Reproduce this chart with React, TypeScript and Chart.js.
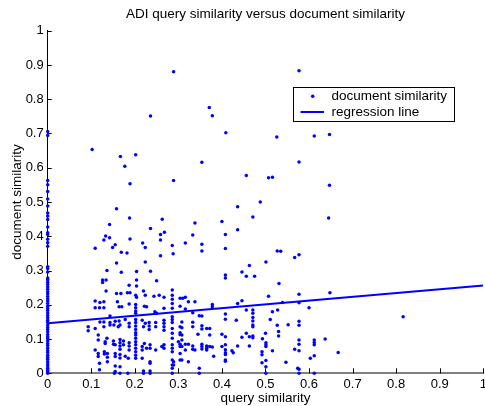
import React, { useEffect, useRef } from "react";
import { Chart, registerables } from "chart.js";

Chart.register(...registerables);

const chartTitle = "ADI query similarity versus document similarity";
const xAxisTitle = "query similarity";
const yAxisTitle = "document similarity";
const legendLabels = ["document similarity", "regression line"];
const tickValues = [0, 0.1, 0.2, 0.3, 0.4, 0.5, 0.6, 0.7, 0.8, 0.9, 1];

// regression line end points (query similarity 0 and 1)
const regressionX = [0, 1];
const regressionY = [0.146, 0.256];

// documents whose query similarity is zero
const zeroQueryDocSim = [
  0, 0.004, 0.009, 0.015, 0.021, 0.027, 0.034, 0.041, 0.046, 0.053, 0.061, 0.066,
  0.073, 0.081, 0.087, 0.094, 0.101, 0.107, 0.113, 0.121, 0.128, 0.134, 0.141,
  0.149, 0.155, 0.162, 0.169, 0.176, 0.183, 0.189, 0.196, 0.204, 0.211, 0.217,
  0.224, 0.232, 0.238, 0.245, 0.252, 0.259, 0.266, 0.273, 0.278, 0.296, 0.306,
  0.311, 0.371, 0.381, 0.391, 0.405, 0.41, 0.427, 0.449, 0.459, 0.468, 0.488,
  0.509, 0.531, 0.55, 0.563, 0.694, 0.706,
];

// [query similarity, document similarity], high similarity documents
const upperBand: [number, number][] = [
  [0.289, 0.88], [0.577, 0.883], [0.371, 0.776], [0.378, 0.752], [0.236, 0.751],
  [0.409, 0.702], [0.526, 0.69], [0.612, 0.693], [0.647, 0.697], [0.102, 0.653],
  [0.202, 0.638], [0.167, 0.633], [0.354, 0.616], [0.577, 0.617], [0.177, 0.604],
  [0.456, 0.577], [0.507, 0.571], [0.516, 0.572], [0.289, 0.563], [0.189, 0.553],
  [0.647, 0.549], [0.488, 0.5], [0.436, 0.486], [0.158, 0.48], [0.471, 0.456],
  [0.188, 0.453], [0.263, 0.45], [0.645, 0.453],
  [0.4, 0.443], [0.338, 0.439], [0.142, 0.434], [0.236, 0.423], [0.436, 0.419],
  [0.268, 0.412], [0.259, 0.405], [0.408, 0.405], [0.333, 0.404], [0.133, 0.401],
  [0.142, 0.396], [0.189, 0.392], [0.129, 0.389], [0.259, 0.389], [0.218, 0.38],
  [0.316, 0.38], [0.354, 0.377], [0.155, 0.375], [0.286, 0.373], [0.149, 0.367],
  [0.224, 0.367], [0.109, 0.365], [0.408, 0.364], [0.354, 0.357], [0.527, 0.357],
  [0.535, 0.356], [0.169, 0.353], [0.182, 0.351], [0.288, 0.349], [0.577, 0.346],
  [0.259, 0.343], [0.567, 0.338],
];

const middleBand: [number, number][] = [
  [0.224, 0.325], [0.501, 0.325], [0.158, 0.322], [0.463, 0.315], [0.136, 0.3],
  [0.236, 0.298], [0.204, 0.297], [0.446, 0.296], [0.169, 0.295], [0.408, 0.287],
  [0.456, 0.283], [0.475, 0.283], [0.408, 0.278], [0.126, 0.272], [0.134, 0.272],
  [0.204, 0.272], [0.25, 0.27], [0.126, 0.265], [0.531, 0.262], [0.187, 0.257],
  [0.204, 0.255],
  [0.134, 0.24], [0.22, 0.24], [0.286, 0.243], [0.158, 0.233], [0.168, 0.233],
  [0.183, 0.235], [0.189, 0.235], [0.648, 0.235], [0.577, 0.231], [0.202, 0.228],
  [0.224, 0.228], [0.256, 0.228], [0.286, 0.228], [0.244, 0.225], [0.507, 0.225],
  [0.204, 0.222], [0.267, 0.222], [0.316, 0.222], [0.304, 0.219], [0.31, 0.219],
  [0.286, 0.216], [0.446, 0.212], [0.109, 0.211], [0.323, 0.209], [0.338, 0.209],
  [0.129, 0.209], [0.16, 0.209], [0.12, 0.207], [0.539, 0.207], [0.577, 0.206],
  [0.286, 0.204], [0.436, 0.204], [0.187, 0.202], [0.202, 0.201], [0.378, 0.201],
  [0.304, 0.196], [0.222, 0.196], [0.378, 0.194], [0.164, 0.194], [0.17, 0.194],
  [0.227, 0.194], [0.109, 0.191], [0.119, 0.191], [0.129, 0.191], [0.202, 0.191],
  [0.6, 0.191], [0.267, 0.19], [0.286, 0.19],
  [0.316, 0.188], [0.456, 0.185], [0.471, 0.185], [0.528, 0.185], [0.202, 0.182],
  [0.246, 0.18], [0.516, 0.18], [0.333, 0.177], [0.202, 0.175], [0.25, 0.175],
  [0.471, 0.175], [0.408, 0.173], [0.348, 0.168], [0.354, 0.167], [0.143, 0.167],
  [0.286, 0.165], [0.816, 0.165], [0.471, 0.163], [0.408, 0.158], [0.178, 0.157],
  [0.202, 0.157], [0.286, 0.157], [0.511, 0.157], [0.217, 0.155], [0.267, 0.155],
  [0.433, 0.155], [0.164, 0.153], [0.471, 0.153], [0.155, 0.152], [0.577, 0.152],
  [0.12, 0.15], [0.129, 0.15], [0.308, 0.15], [0.333, 0.149], [0.143, 0.148],
  [0.202, 0.148], [0.233, 0.148], [0.248, 0.148], [0.286, 0.148], [0.187, 0.146],
  [0.224, 0.146], [0.267, 0.146], [0.552, 0.142], [0.143, 0.141], [0.152, 0.141],
  [0.166, 0.141], [0.471, 0.141], [0.527, 0.14], [0.577, 0.14], [0.354, 0.139],
  [0.202, 0.138], [0.233, 0.138], [0.093, 0.136], [0.129, 0.136], [0.162, 0.136],
  [0.187, 0.136], [0.22, 0.136], [0.248, 0.136], [0.267, 0.136], [0.304, 0.136],
  [0.333, 0.136], [0.471, 0.136], [0.308, 0.133], [0.109, 0.131], [0.286, 0.131],
  [0.365, 0.131], [0.372, 0.131], [0.354, 0.129], [0.202, 0.128], [0.233, 0.128],
  [0.267, 0.126], [0.093, 0.124], [0.53, 0.122],
];

const lowerBand: [number, number][] = [
  [0.304, 0.118], [0.202, 0.118], [0.286, 0.117], [0.456, 0.117], [0.5, 0.117],
  [0.345, 0.114], [0.4, 0.114], [0.304, 0.113], [0.116, 0.112], [0.202, 0.112],
  [0.308, 0.112], [0.372, 0.112], [0.53, 0.109], [0.471, 0.109], [0.408, 0.107],
  [0.463, 0.107], [0.446, 0.105], [0.471, 0.104], [0.136, 0.102], [0.202, 0.102],
  [0.286, 0.102], [0.493, 0.101], [0.637, 0.1], [0.166, 0.099], [0.116, 0.097],
  [0.308, 0.097], [0.577, 0.097], [0.612, 0.097], [0.151, 0.094], [0.174, 0.094],
  [0.132, 0.092], [0.202, 0.092], [0.3, 0.092], [0.612, 0.09], [0.166, 0.089],
  [0.187, 0.089], [0.501, 0.089], [0.132, 0.087], [0.222, 0.087], [0.151, 0.085],
  [0.304, 0.085], [0.316, 0.085], [0.323, 0.085], [0.354, 0.085], [0.577, 0.085],
  [0.155, 0.083], [0.174, 0.083], [0.202, 0.083], [0.235, 0.083], [0.267, 0.083],
  [0.286, 0.083], [0.408, 0.083], [0.501, 0.083], [0.612, 0.083], [0.166, 0.08],
  [0.187, 0.08], [0.333, 0.08], [0.365, 0.08], [0.436, 0.08], [0.463, 0.08],
  [0.217, 0.078], [0.262, 0.078], [0.304, 0.078], [0.308, 0.078], [0.354, 0.078],
  [0.4, 0.078], [0.501, 0.078], [0.372, 0.078], [0.378, 0.077], [0.202, 0.073],
  [0.227, 0.073], [0.235, 0.073], [0.267, 0.073], [0.286, 0.073], [0.365, 0.073],
  [0.354, 0.071], [0.166, 0.07], [0.333, 0.07], [0.567, 0.07], [0.408, 0.069],
  [0.109, 0.068], [0.187, 0.068], [0.217, 0.068], [0.248, 0.068], [0.316, 0.068],
  [0.338, 0.068], [0.365, 0.068], [0.423, 0.066], [0.516, 0.066], [0.577, 0.066],
  [0.13, 0.063], [0.202, 0.063], [0.286, 0.063], [0.492, 0.063], [0.667, 0.061],
  [0.408, 0.06], [0.426, 0.06],
  [0.116, 0.058], [0.137, 0.058], [0.155, 0.058], [0.304, 0.058], [0.13, 0.056],
  [0.408, 0.055], [0.166, 0.055], [0.492, 0.054], [0.202, 0.053], [0.612, 0.051],
  [0.178, 0.05], [0.381, 0.05], [0.116, 0.049], [0.155, 0.049], [0.137, 0.047],
  [0.202, 0.044], [0.185, 0.044], [0.603, 0.044], [0.166, 0.045], [0.217, 0.044],
  [0.286, 0.039], [0.304, 0.039], [0.308, 0.039], [0.408, 0.039], [0.501, 0.037],
  [0.408, 0.035], [0.137, 0.034], [0.235, 0.034], [0.289, 0.034], [0.323, 0.034],
  [0.547, 0.032], [0.492, 0.031], [0.119, 0.029], [0.235, 0.029], [0.286, 0.024],
  [0.289, 0.024], [0.155, 0.021], [0.166, 0.019], [0.501, 0.019], [0.286, 0.015],
  [0.348, 0.015], [0.574, 0.015], [0.577, 0.012], [0.119, 0.01], [0.22, 0.007],
  [0.235, 0.007], [0.155, 0.005], [0.153, 0], [0.166, 0], [0.184, 0], [0.22, 0],
  [0.235, 0], [0.286, 0], [0.348, 0], [0.501, 0], [0.577, 0], [0.612, 0],
];

const BLUE = "#0000ff";
const FONT_FAMILY = "'Liberation Sans', Arial, Helvetica, sans-serif";
const POINT_RADIUS = 1.75;

const fmtTick = (v: number | string) => String(Math.round(Number(v) * 10) / 10);

// inward tick marks, MATLAB style
const innerTicks = {
  id: "innerTicks",
  beforeDatasetsDraw(chart: any) {
    const { ctx, chartArea, scales } = chart;
    ctx.save();
    ctx.strokeStyle = "#000";
    ctx.lineWidth = 1;
    ctx.beginPath();
    for (const v of tickValues) {
      const px = Math.round(scales.x.getPixelForValue(v)) + 0.5;
      ctx.moveTo(px, chartArea.bottom);
      ctx.lineTo(px, chartArea.bottom - 5);
      const py = Math.round(scales.y.getPixelForValue(v)) + 0.5;
      ctx.moveTo(chartArea.left, py);
      ctx.lineTo(chartArea.left + 4, py);
    }
    ctx.stroke();
    ctx.restore();
  },
};

// boxed legend in the upper right of the plot
const boxedLegend = {
  id: "boxedLegend",
  afterDatasetsDraw(chart: any) {
    const { ctx } = chart;
    const left = 293.5;
    const top = 87.5;
    const w = 161;
    const h = 34;
    ctx.save();
    ctx.fillStyle = "#fff";
    ctx.fillRect(left, top, w, h);
    ctx.strokeStyle = "#000";
    ctx.lineWidth = 1;
    ctx.strokeRect(left, top, w, h);
    // marker sample
    ctx.fillStyle = BLUE;
    ctx.beginPath();
    ctx.arc(312.7, 96.3, POINT_RADIUS, 0, Math.PI * 2);
    ctx.fill();
    // line sample
    ctx.strokeStyle = BLUE;
    ctx.lineWidth = 2;
    ctx.beginPath();
    ctx.moveTo(300.5, 112);
    ctx.lineTo(324, 112);
    ctx.stroke();
    ctx.fillStyle = "#000";
    ctx.font = `13.5px ${FONT_FAMILY}`;
    ctx.textBaseline = "middle";
    ctx.textAlign = "left";
    ctx.fillText(legendLabels[0], 331.5, 96.5);
    ctx.fillText(legendLabels[1], 331.5, 112.5);
    ctx.restore();
  },
};

export default function App() {
  const canvasRef = useRef<HTMLCanvasElement | null>(null);

  useEffect(() => {
    document.body.style.margin = "0";
    const canvas = canvasRef.current;
    if (!canvas) return;

    const scatterPoints = [
      ...zeroQueryDocSim.map((y) => ({ x: 0, y })),
      ...upperBand.map(([x, y]) => ({ x, y })),
      ...middleBand.map(([x, y]) => ({ x, y })),
      ...lowerBand.map(([x, y]) => ({ x, y })),
    ];
    const regressionPoints = regressionX.map((x, i) => ({ x, y: regressionY[i] }));

    const chart = new Chart(canvas, {
      type: "scatter",
      data: {
        datasets: [
          {
            label: legendLabels[0],
            data: scatterPoints,
            backgroundColor: BLUE,
            pointRadius: POINT_RADIUS,
            pointBorderWidth: 0,
            pointHoverRadius: POINT_RADIUS,
            clip: false,
            order: 2,
          },
          {
            type: "line",
            label: legendLabels[1],
            data: regressionPoints,
            borderColor: BLUE,
            borderWidth: 2,
            pointRadius: 0,
            order: 1,
          } as any,
        ],
      },
      options: {
        responsive: false,
        animation: false,
        devicePixelRatio: 1,
        layout: { padding: 0 },
        plugins: {
          legend: { display: false },
          tooltip: { enabled: false },
          title: {
            display: true,
            text: chartTitle,
            fullSize: false,
            color: "#000",
            font: { family: FONT_FAMILY, size: 13.5, weight: "normal" },
            padding: { top: 6.6, bottom: 7.9 },
          },
        },
        scales: {
          x: {
            type: "linear",
            min: 0,
            max: 1,
            afterFit: (s: any) => {
              s.height = 32.7;
              s.paddingLeft = 0;
              s.paddingRight = 0;
            },
            afterBuildTicks: (s: any) => {
              s.ticks = tickValues.map((value) => ({ value }));
            },
            grid: { display: true, drawOnChartArea: false, drawTicks: false },
            border: { display: true, color: "#808080", width: 2 },
            ticks: {
              color: "#000",
              padding: 3,
              maxRotation: 0,
              autoSkip: false,
              font: { family: FONT_FAMILY, size: 13 },
              callback: fmtTick,
            },
            title: {
              display: true,
              text: xAxisTitle,
              color: "#000",
              font: { family: FONT_FAMILY, size: 13.5 },
              padding: { top: 0, bottom: 0 },
            },
          },
          y: {
            type: "linear",
            min: 0,
            max: 1,
            afterFit: (s: any) => {
              s.width = 47.7;
              s.paddingTop = 0;
              s.paddingBottom = 0;
            },
            afterBuildTicks: (s: any) => {
              s.ticks = tickValues.map((value) => ({ value }));
            },
            grid: { display: true, drawOnChartArea: false, drawTicks: false },
            border: { display: true, color: "#000", width: 1 },
            ticks: {
              color: "#000",
              padding: 4,
              autoSkip: false,
              font: { family: FONT_FAMILY, size: 13 },
              callback: fmtTick,
            },
            title: {
              display: true,
              text: yAxisTitle,
              color: "#000",
              font: { family: FONT_FAMILY, size: 13.5 },
              padding: { top: 9, bottom: 0 },
            },
          },
        },
      } as any,
      plugins: [innerTicks, boxedLegend],
    });

    return () => chart.destroy();
  }, []);

  return (
    <div style={{ width: 485, height: 406, background: "#fff" }}>
      <canvas ref={canvasRef} width={485} height={406} style={{ display: "block" }} />
    </div>
  );
}
